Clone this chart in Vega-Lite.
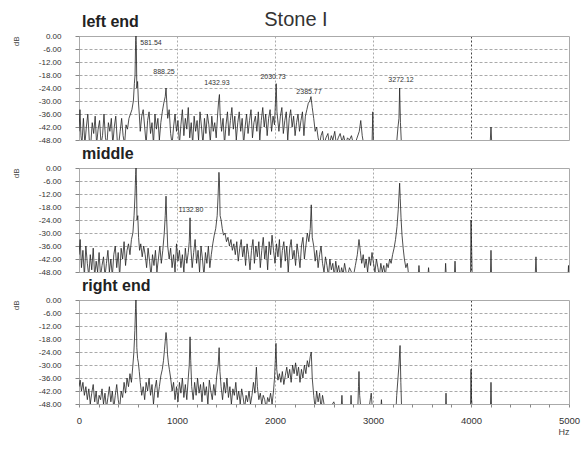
{
"$schema":"https://vega.github.io/schema/vega-lite/v6.json",
"background":"white",
"padding":{"left":11,"top":9,"right":0,"bottom":0},
"title":{"text":"Stone I","fontSize":20,"fontWeight":"normal","color":"#333","anchor":"middle","offset":-16,"frame":"bounds","dx":0},
"spacing":0,
"config":{
 "font":"Liberation Sans",
 "locale":{"number":{"decimal":".","thousands":",","grouping":[3],"currency":["$",""],"minus":"-"}},
 "view":{"stroke":"#aaa","strokeWidth":1},
 "axis":{"labelFont":"Liberation Sans","labelColor":"#333","labelFontSize":8,"tickColor":"#888","domain":false,"titleColor":"#444","titleFontWeight":"normal","titleFont":"Liberation Sans","labelOverlap":false},
 "title":{"fontSize":16,"fontWeight":"bold","anchor":"start","color":"#222","offset":2,"dx":3,"frame":"group"}
},
"datasets":{
"left":[{"hz":0,"db":-44},{"hz":10,"db":-34},{"hz":20,"db":-46},{"hz":30,"db":-50},{"hz":45,"db":-38},{"hz":60,"db":-50},{"hz":75,"db":-42},{"hz":90,"db":-36},{"hz":105,"db":-48},{"hz":120,"db":-50},{"hz":135,"db":-40},{"hz":150,"db":-45},{"hz":165,"db":-37},{"hz":180,"db":-50},{"hz":195,"db":-43},{"hz":210,"db":-39},{"hz":225,"db":-50},{"hz":240,"db":-46},{"hz":255,"db":-36},{"hz":270,"db":-47},{"hz":285,"db":-50},{"hz":300,"db":-40},{"hz":315,"db":-44},{"hz":330,"db":-38},{"hz":345,"db":-50},{"hz":360,"db":-42},{"hz":375,"db":-37},{"hz":390,"db":-48},{"hz":405,"db":-50},{"hz":420,"db":-44},{"hz":435,"db":-38},{"hz":450,"db":-46},{"hz":465,"db":-50},{"hz":480,"db":-41},{"hz":495,"db":-43},{"hz":510,"db":-38},{"hz":525,"db":-36},{"hz":540,"db":-34},{"hz":555,"db":-30},{"hz":565,"db":-22},{"hz":572,"db":-18},{"hz":578,"db":-2},{"hz":581.5,"db":0},{"hz":585,"db":-4},{"hz":590,"db":-24},{"hz":598,"db":-21},{"hz":606,"db":-30},{"hz":615,"db":-36},{"hz":625,"db":-44},{"hz":640,"db":-37},{"hz":655,"db":-34},{"hz":670,"db":-42},{"hz":685,"db":-50},{"hz":700,"db":-39},{"hz":715,"db":-35},{"hz":730,"db":-45},{"hz":745,"db":-40},{"hz":760,"db":-50},{"hz":775,"db":-36},{"hz":790,"db":-43},{"hz":805,"db":-38},{"hz":820,"db":-48},{"hz":835,"db":-40},{"hz":850,"db":-35},{"hz":865,"db":-31},{"hz":880,"db":-28},{"hz":888,"db":-24},{"hz":895,"db":-30},{"hz":905,"db":-38},{"hz":920,"db":-34},{"hz":935,"db":-45},{"hz":950,"db":-50},{"hz":965,"db":-42},{"hz":980,"db":-36},{"hz":995,"db":-44},{"hz":1010,"db":-39},{"hz":1025,"db":-50},{"hz":1040,"db":-41},{"hz":1055,"db":-34},{"hz":1070,"db":-46},{"hz":1085,"db":-38},{"hz":1100,"db":-43},{"hz":1115,"db":-33},{"hz":1130,"db":-47},{"hz":1145,"db":-40},{"hz":1160,"db":-50},{"hz":1175,"db":-37},{"hz":1190,"db":-44},{"hz":1205,"db":-39},{"hz":1220,"db":-48},{"hz":1235,"db":-35},{"hz":1250,"db":-42},{"hz":1265,"db":-50},{"hz":1280,"db":-38},{"hz":1295,"db":-45},{"hz":1310,"db":-36},{"hz":1325,"db":-41},{"hz":1340,"db":-49},{"hz":1355,"db":-37},{"hz":1370,"db":-44},{"hz":1385,"db":-40},{"hz":1400,"db":-47},{"hz":1415,"db":-36},{"hz":1425,"db":-30},{"hz":1433,"db":-27},{"hz":1440,"db":-36},{"hz":1455,"db":-44},{"hz":1470,"db":-38},{"hz":1485,"db":-50},{"hz":1500,"db":-41},{"hz":1515,"db":-35},{"hz":1530,"db":-46},{"hz":1545,"db":-39},{"hz":1560,"db":-33},{"hz":1575,"db":-43},{"hz":1590,"db":-37},{"hz":1605,"db":-48},{"hz":1620,"db":-40},{"hz":1635,"db":-35},{"hz":1650,"db":-44},{"hz":1665,"db":-38},{"hz":1680,"db":-50},{"hz":1695,"db":-42},{"hz":1710,"db":-36},{"hz":1725,"db":-45},{"hz":1740,"db":-39},{"hz":1755,"db":-34},{"hz":1770,"db":-47},{"hz":1785,"db":-40},{"hz":1800,"db":-37},{"hz":1815,"db":-44},{"hz":1830,"db":-35},{"hz":1845,"db":-48},{"hz":1860,"db":-39},{"hz":1875,"db":-33},{"hz":1890,"db":-42},{"hz":1905,"db":-36},{"hz":1920,"db":-46},{"hz":1935,"db":-38},{"hz":1950,"db":-34},{"hz":1965,"db":-44},{"hz":1980,"db":-37},{"hz":1995,"db":-41},{"hz":2005,"db":-30},{"hz":2012,"db":-22},{"hz":2020,"db":-35},{"hz":2040,"db":-44},{"hz":2055,"db":-37},{"hz":2070,"db":-33},{"hz":2085,"db":-45},{"hz":2100,"db":-39},{"hz":2115,"db":-35},{"hz":2130,"db":-48},{"hz":2145,"db":-38},{"hz":2160,"db":-34},{"hz":2175,"db":-42},{"hz":2190,"db":-37},{"hz":2205,"db":-46},{"hz":2220,"db":-40},{"hz":2235,"db":-36},{"hz":2250,"db":-44},{"hz":2265,"db":-39},{"hz":2280,"db":-35},{"hz":2295,"db":-46},{"hz":2310,"db":-37},{"hz":2325,"db":-34},{"hz":2340,"db":-31},{"hz":2355,"db":-30},{"hz":2367,"db":-28},{"hz":2380,"db":-33},{"hz":2395,"db":-38},{"hz":2410,"db":-44},{"hz":2425,"db":-42},{"hz":2440,"db":-47},{"hz":2455,"db":-50},{"hz":2470,"db":-46},{"hz":2485,"db":-44},{"hz":2500,"db":-50},{"hz":2520,"db":-47},{"hz":2540,"db":-45},{"hz":2555,"db":-50},{"hz":2575,"db":-46},{"hz":2590,"db":-48},{"hz":2610,"db":-44},{"hz":2625,"db":-50},{"hz":2645,"db":-47},{"hz":2665,"db":-45},{"hz":2685,"db":-49},{"hz":2700,"db":-46},{"hz":2720,"db":-50},{"hz":2740,"db":-47},{"hz":2760,"db":-48},{"hz":2780,"db":-46},{"hz":2800,"db":-50},{"hz":2830,"db":-48},{"hz":2860,"db":-44},{"hz":2875,"db":-39},{"hz":2890,"db":-46},{"hz":2905,"db":-50},{"hz":2990,"db":-50},{"hz":2998,"db":-35},{"hz":3005,"db":-50},{"hz":3240,"db":-50},{"hz":3255,"db":-42},{"hz":3265,"db":-38},{"hz":3272,"db":-24},{"hz":3280,"db":-40},{"hz":3290,"db":-50},{"hz":4195,"db":-50},{"hz":4204,"db":-42},{"hz":4212,"db":-50},{"hz":5000,"db":-50}],
"middle":[{"hz":0,"db":-40},{"hz":12,"db":-33},{"hz":25,"db":-46},{"hz":40,"db":-38},{"hz":55,"db":-50},{"hz":70,"db":-36},{"hz":85,"db":-44},{"hz":100,"db":-50},{"hz":115,"db":-40},{"hz":130,"db":-47},{"hz":145,"db":-37},{"hz":160,"db":-50},{"hz":175,"db":-43},{"hz":190,"db":-48},{"hz":205,"db":-39},{"hz":220,"db":-50},{"hz":235,"db":-45},{"hz":250,"db":-41},{"hz":265,"db":-50},{"hz":280,"db":-44},{"hz":295,"db":-38},{"hz":310,"db":-48},{"hz":325,"db":-42},{"hz":340,"db":-50},{"hz":355,"db":-40},{"hz":370,"db":-36},{"hz":385,"db":-46},{"hz":400,"db":-39},{"hz":415,"db":-50},{"hz":430,"db":-37},{"hz":445,"db":-42},{"hz":460,"db":-34},{"hz":475,"db":-45},{"hz":490,"db":-38},{"hz":505,"db":-35},{"hz":520,"db":-40},{"hz":535,"db":-33},{"hz":550,"db":-30},{"hz":562,"db":-22},{"hz":572,"db":-12},{"hz":578,"db":-3},{"hz":582,"db":0},{"hz":587,"db":-8},{"hz":592,"db":-24},{"hz":600,"db":-22},{"hz":608,"db":-32},{"hz":618,"db":-38},{"hz":630,"db":-35},{"hz":645,"db":-41},{"hz":660,"db":-36},{"hz":675,"db":-40},{"hz":690,"db":-46},{"hz":705,"db":-37},{"hz":720,"db":-43},{"hz":735,"db":-50},{"hz":750,"db":-40},{"hz":765,"db":-45},{"hz":780,"db":-38},{"hz":795,"db":-48},{"hz":810,"db":-42},{"hz":825,"db":-36},{"hz":840,"db":-44},{"hz":855,"db":-38},{"hz":870,"db":-30},{"hz":880,"db":-22},{"hz":888,"db":-13},{"hz":895,"db":-24},{"hz":905,"db":-36},{"hz":920,"db":-42},{"hz":935,"db":-37},{"hz":950,"db":-46},{"hz":965,"db":-40},{"hz":980,"db":-48},{"hz":995,"db":-35},{"hz":1010,"db":-43},{"hz":1025,"db":-38},{"hz":1040,"db":-46},{"hz":1055,"db":-40},{"hz":1070,"db":-48},{"hz":1085,"db":-37},{"hz":1100,"db":-44},{"hz":1115,"db":-39},{"hz":1125,"db":-34},{"hz":1133,"db":-23},{"hz":1140,"db":-36},{"hz":1155,"db":-46},{"hz":1170,"db":-39},{"hz":1185,"db":-33},{"hz":1200,"db":-44},{"hz":1215,"db":-38},{"hz":1230,"db":-48},{"hz":1245,"db":-36},{"hz":1260,"db":-42},{"hz":1275,"db":-50},{"hz":1290,"db":-39},{"hz":1305,"db":-44},{"hz":1320,"db":-36},{"hz":1335,"db":-46},{"hz":1350,"db":-40},{"hz":1365,"db":-35},{"hz":1380,"db":-31},{"hz":1395,"db":-28},{"hz":1410,"db":-22},{"hz":1420,"db":-12},{"hz":1428,"db":-2},{"hz":1433,"db":-6},{"hz":1440,"db":-22},{"hz":1450,"db":-24},{"hz":1462,"db":-28},{"hz":1475,"db":-31},{"hz":1490,"db":-30},{"hz":1505,"db":-34},{"hz":1520,"db":-32},{"hz":1535,"db":-36},{"hz":1550,"db":-33},{"hz":1565,"db":-38},{"hz":1580,"db":-35},{"hz":1595,"db":-40},{"hz":1610,"db":-34},{"hz":1625,"db":-43},{"hz":1640,"db":-37},{"hz":1655,"db":-33},{"hz":1670,"db":-41},{"hz":1685,"db":-36},{"hz":1700,"db":-45},{"hz":1715,"db":-35},{"hz":1730,"db":-40},{"hz":1745,"db":-47},{"hz":1760,"db":-38},{"hz":1775,"db":-33},{"hz":1790,"db":-44},{"hz":1805,"db":-36},{"hz":1820,"db":-41},{"hz":1835,"db":-34},{"hz":1850,"db":-46},{"hz":1865,"db":-38},{"hz":1880,"db":-32},{"hz":1895,"db":-42},{"hz":1910,"db":-36},{"hz":1925,"db":-47},{"hz":1940,"db":-34},{"hz":1955,"db":-40},{"hz":1970,"db":-31},{"hz":1985,"db":-38},{"hz":2000,"db":-44},{"hz":2015,"db":-35},{"hz":2030,"db":-41},{"hz":2045,"db":-33},{"hz":2060,"db":-46},{"hz":2075,"db":-38},{"hz":2090,"db":-34},{"hz":2105,"db":-43},{"hz":2120,"db":-36},{"hz":2135,"db":-48},{"hz":2150,"db":-37},{"hz":2165,"db":-33},{"hz":2180,"db":-42},{"hz":2195,"db":-38},{"hz":2210,"db":-45},{"hz":2225,"db":-35},{"hz":2240,"db":-40},{"hz":2255,"db":-46},{"hz":2270,"db":-36},{"hz":2285,"db":-32},{"hz":2300,"db":-42},{"hz":2315,"db":-36},{"hz":2330,"db":-30},{"hz":2345,"db":-34},{"hz":2360,"db":-28},{"hz":2370,"db":-17},{"hz":2380,"db":-32},{"hz":2395,"db":-36},{"hz":2410,"db":-43},{"hz":2425,"db":-38},{"hz":2440,"db":-46},{"hz":2455,"db":-40},{"hz":2470,"db":-36},{"hz":2485,"db":-44},{"hz":2500,"db":-48},{"hz":2515,"db":-41},{"hz":2530,"db":-45},{"hz":2545,"db":-50},{"hz":2560,"db":-42},{"hz":2575,"db":-47},{"hz":2590,"db":-44},{"hz":2605,"db":-50},{"hz":2620,"db":-43},{"hz":2635,"db":-48},{"hz":2650,"db":-45},{"hz":2665,"db":-50},{"hz":2680,"db":-46},{"hz":2695,"db":-49},{"hz":2710,"db":-44},{"hz":2725,"db":-48},{"hz":2740,"db":-50},{"hz":2760,"db":-46},{"hz":2780,"db":-48},{"hz":2800,"db":-50},{"hz":2820,"db":-45},{"hz":2840,"db":-40},{"hz":2857,"db":-33},{"hz":2870,"db":-38},{"hz":2885,"db":-44},{"hz":2900,"db":-40},{"hz":2915,"db":-46},{"hz":2930,"db":-42},{"hz":2945,"db":-48},{"hz":2960,"db":-41},{"hz":2975,"db":-45},{"hz":2990,"db":-39},{"hz":3005,"db":-44},{"hz":3020,"db":-48},{"hz":3035,"db":-42},{"hz":3050,"db":-46},{"hz":3065,"db":-50},{"hz":3080,"db":-44},{"hz":3095,"db":-48},{"hz":3110,"db":-45},{"hz":3125,"db":-50},{"hz":3140,"db":-44},{"hz":3155,"db":-46},{"hz":3170,"db":-42},{"hz":3185,"db":-44},{"hz":3200,"db":-40},{"hz":3215,"db":-37},{"hz":3230,"db":-33},{"hz":3245,"db":-27},{"hz":3258,"db":-19},{"hz":3266,"db":-12},{"hz":3272,"db":-7},{"hz":3278,"db":-14},{"hz":3286,"db":-23},{"hz":3296,"db":-31},{"hz":3308,"db":-37},{"hz":3320,"db":-42},{"hz":3335,"db":-46},{"hz":3350,"db":-44},{"hz":3365,"db":-50},{"hz":3460,"db":-50},{"hz":3469,"db":-45},{"hz":3478,"db":-50},{"hz":3560,"db":-50},{"hz":3567,"db":-46},{"hz":3574,"db":-50},{"hz":3735,"db":-50},{"hz":3741,"db":-44},{"hz":3748,"db":-50},{"hz":3830,"db":-50},{"hz":3837,"db":-43},{"hz":3844,"db":-50},{"hz":3995,"db":-50},{"hz":4000,"db":-24},{"hz":4006,"db":-36},{"hz":4012,"db":-50},{"hz":4198,"db":-50},{"hz":4204,"db":-38},{"hz":4210,"db":-50},{"hz":4655,"db":-50},{"hz":4663,"db":-41},{"hz":4670,"db":-50},{"hz":4990,"db":-50},{"hz":4995,"db":-45},{"hz":5000,"db":-50}],
"right":[{"hz":0,"db":-40},{"hz":12,"db":-37},{"hz":25,"db":-42},{"hz":40,"db":-38},{"hz":55,"db":-44},{"hz":70,"db":-40},{"hz":85,"db":-46},{"hz":100,"db":-41},{"hz":115,"db":-48},{"hz":130,"db":-43},{"hz":145,"db":-39},{"hz":160,"db":-47},{"hz":175,"db":-42},{"hz":190,"db":-50},{"hz":205,"db":-44},{"hz":220,"db":-46},{"hz":235,"db":-41},{"hz":250,"db":-48},{"hz":265,"db":-43},{"hz":280,"db":-50},{"hz":295,"db":-45},{"hz":310,"db":-40},{"hz":325,"db":-47},{"hz":340,"db":-42},{"hz":355,"db":-50},{"hz":370,"db":-44},{"hz":385,"db":-39},{"hz":400,"db":-46},{"hz":415,"db":-50},{"hz":430,"db":-42},{"hz":445,"db":-45},{"hz":460,"db":-38},{"hz":475,"db":-43},{"hz":490,"db":-36},{"hz":505,"db":-40},{"hz":520,"db":-34},{"hz":535,"db":-38},{"hz":550,"db":-30},{"hz":560,"db":-24},{"hz":570,"db":-14},{"hz":577,"db":-4},{"hz":581,"db":0},{"hz":585,"db":-6},{"hz":590,"db":-22},{"hz":598,"db":-27},{"hz":606,"db":-29},{"hz":615,"db":-33},{"hz":625,"db":-38},{"hz":640,"db":-44},{"hz":655,"db":-40},{"hz":670,"db":-46},{"hz":685,"db":-38},{"hz":700,"db":-42},{"hz":715,"db":-36},{"hz":730,"db":-44},{"hz":745,"db":-39},{"hz":760,"db":-48},{"hz":775,"db":-41},{"hz":790,"db":-37},{"hz":805,"db":-45},{"hz":820,"db":-40},{"hz":835,"db":-35},{"hz":850,"db":-32},{"hz":862,"db":-28},{"hz":872,"db":-23},{"hz":880,"db":-19},{"hz":888,"db":-15},{"hz":895,"db":-18},{"hz":903,"db":-25},{"hz":912,"db":-29},{"hz":922,"db":-32},{"hz":935,"db":-36},{"hz":950,"db":-42},{"hz":965,"db":-38},{"hz":980,"db":-46},{"hz":995,"db":-40},{"hz":1010,"db":-47},{"hz":1025,"db":-38},{"hz":1040,"db":-43},{"hz":1055,"db":-36},{"hz":1070,"db":-45},{"hz":1085,"db":-39},{"hz":1100,"db":-46},{"hz":1115,"db":-36},{"hz":1125,"db":-30},{"hz":1133,"db":-17},{"hz":1140,"db":-28},{"hz":1150,"db":-40},{"hz":1165,"db":-46},{"hz":1180,"db":-38},{"hz":1195,"db":-44},{"hz":1210,"db":-36},{"hz":1225,"db":-43},{"hz":1240,"db":-39},{"hz":1255,"db":-47},{"hz":1270,"db":-38},{"hz":1285,"db":-44},{"hz":1300,"db":-40},{"hz":1315,"db":-48},{"hz":1330,"db":-37},{"hz":1345,"db":-42},{"hz":1360,"db":-46},{"hz":1375,"db":-39},{"hz":1390,"db":-44},{"hz":1405,"db":-35},{"hz":1420,"db":-30},{"hz":1430,"db":-22},{"hz":1438,"db":-33},{"hz":1450,"db":-40},{"hz":1465,"db":-46},{"hz":1480,"db":-38},{"hz":1495,"db":-43},{"hz":1510,"db":-36},{"hz":1525,"db":-45},{"hz":1540,"db":-40},{"hz":1555,"db":-48},{"hz":1570,"db":-41},{"hz":1585,"db":-44},{"hz":1600,"db":-38},{"hz":1615,"db":-46},{"hz":1630,"db":-42},{"hz":1645,"db":-48},{"hz":1660,"db":-41},{"hz":1675,"db":-45},{"hz":1690,"db":-50},{"hz":1705,"db":-44},{"hz":1720,"db":-47},{"hz":1735,"db":-42},{"hz":1750,"db":-48},{"hz":1765,"db":-44},{"hz":1780,"db":-38},{"hz":1795,"db":-43},{"hz":1810,"db":-31},{"hz":1820,"db":-40},{"hz":1835,"db":-46},{"hz":1850,"db":-43},{"hz":1865,"db":-48},{"hz":1880,"db":-44},{"hz":1895,"db":-46},{"hz":1910,"db":-50},{"hz":1925,"db":-45},{"hz":1940,"db":-47},{"hz":1955,"db":-43},{"hz":1970,"db":-48},{"hz":1985,"db":-42},{"hz":1995,"db":-36},{"hz":2003,"db":-28},{"hz":2010,"db":-20},{"hz":2018,"db":-32},{"hz":2030,"db":-37},{"hz":2045,"db":-34},{"hz":2060,"db":-38},{"hz":2075,"db":-33},{"hz":2090,"db":-39},{"hz":2105,"db":-35},{"hz":2120,"db":-31},{"hz":2135,"db":-36},{"hz":2150,"db":-32},{"hz":2165,"db":-38},{"hz":2180,"db":-30},{"hz":2195,"db":-34},{"hz":2210,"db":-29},{"hz":2225,"db":-35},{"hz":2240,"db":-31},{"hz":2255,"db":-38},{"hz":2270,"db":-32},{"hz":2285,"db":-36},{"hz":2300,"db":-30},{"hz":2315,"db":-34},{"hz":2330,"db":-28},{"hz":2345,"db":-31},{"hz":2360,"db":-26},{"hz":2370,"db":-24},{"hz":2380,"db":-36},{"hz":2395,"db":-44},{"hz":2410,"db":-50},{"hz":2425,"db":-42},{"hz":2440,"db":-47},{"hz":2455,"db":-43},{"hz":2470,"db":-50},{"hz":2485,"db":-44},{"hz":2500,"db":-48},{"hz":2520,"db":-50},{"hz":2560,"db":-50},{"hz":2600,"db":-47},{"hz":2620,"db":-50},{"hz":2675,"db":-50},{"hz":2683,"db":-44},{"hz":2690,"db":-50},{"hz":2770,"db":-50},{"hz":2776,"db":-44},{"hz":2782,"db":-50},{"hz":2845,"db":-50},{"hz":2852,"db":-40},{"hz":2857,"db":-33},{"hz":2864,"db":-44},{"hz":2872,"db":-48},{"hz":2890,"db":-50},{"hz":2960,"db":-50},{"hz":2975,"db":-45},{"hz":2982,"db":-43},{"hz":2990,"db":-48},{"hz":3000,"db":-50},{"hz":3080,"db":-50},{"hz":3086,"db":-46},{"hz":3092,"db":-50},{"hz":3235,"db":-50},{"hz":3242,"db":-44},{"hz":3255,"db":-36},{"hz":3265,"db":-30},{"hz":3276,"db":-21},{"hz":3284,"db":-38},{"hz":3292,"db":-50},{"hz":3740,"db":-50},{"hz":3745,"db":-43},{"hz":3750,"db":-50},{"hz":3995,"db":-50},{"hz":4000,"db":-32},{"hz":4005,"db":-45},{"hz":4012,"db":-50},{"hz":4198,"db":-50},{"hz":4204,"db":-38},{"hz":4210,"db":-50},{"hz":5000,"db":-50}],
"peaks":[{"panel":"left","hz":735,"db":-3.2,"label":"581.54"},{"panel":"left","hz":867,"db":-16.6,"label":"888.25"},{"panel":"left","hz":1408,"db":-21.7,"label":"1432.93"},{"panel":"left","hz":1980,"db":-18.9,"label":"2030.73"},{"panel":"left","hz":2347,"db":-25.8,"label":"2385.77"},{"panel":"left","hz":3286,"db":-20.3,"label":"3272.12"},{"panel":"middle","hz":1143,"db":-19.4,"label":"1132.80"}]
},
"vconcat":[
{"width":490,"height":104,"title":{"text":"left end"},
 "encoding":{
  "x":{"field":"hz","type":"quantitative","scale":{"domain":[0,5000],"nice":false},"axis":{"title":null,"labels":false,"ticks":false,"values":[1000,2000,3000,4000],"gridDash":[2,2],"gridColor":{"condition":{"test":"datum.value===4000","value":"#444"},"value":"#aaa"}}},
  "y":{"field":"db","type":"quantitative","scale":{"domain":[-48,0],"nice":false},"axis":{"title":"dB","titleFontSize":8,"titleAnchor":"end","titlePadding":18,"values":[-48,-42,-36,-30,-24,-18,-12,-6,0],"format":".2f","labelPadding":14,"tickSize":4,"gridDash":[3,2],"gridColor":"#aaa"}}},
 "layer":[
  {"data":{"name":"left"},"mark":{"type":"line","clip":true,"color":"#222","strokeWidth":0.8}},
  {"data":{"name":"peaks"},"transform":[{"filter":"datum.panel==='left'"}],"mark":{"type":"text","fontSize":7,"color":"#333"},
   "encoding":{"text":{"field":"label"}}}
 ]},
{"width":490,"height":104,"title":{"text":"middle"},
 "encoding":{
  "x":{"field":"hz","type":"quantitative","scale":{"domain":[0,5000],"nice":false},"axis":{"title":null,"labels":false,"ticks":false,"values":[1000,2000,3000,4000],"gridDash":[2,2],"gridColor":{"condition":{"test":"datum.value===4000","value":"#444"},"value":"#aaa"}}},
  "y":{"field":"db","type":"quantitative","scale":{"domain":[-48,0],"nice":false},"axis":{"title":"dB","titleFontSize":8,"titleAnchor":"end","titlePadding":18,"values":[-48,-42,-36,-30,-24,-18,-12,-6,0],"format":".2f","labelPadding":14,"tickSize":4,"gridDash":[3,2],"gridColor":"#aaa"}}},
 "layer":[
  {"data":{"name":"middle"},"mark":{"type":"line","clip":true,"color":"#222","strokeWidth":0.8}},
  {"data":{"name":"peaks"},"transform":[{"filter":"datum.panel==='middle'"}],"mark":{"type":"text","fontSize":7,"color":"#333"},
   "encoding":{"text":{"field":"label"}}}
 ]},
{"width":490,"height":104,"title":{"text":"right end"},
 "data":{"name":"right"},
 "mark":{"type":"line","clip":true,"color":"#222","strokeWidth":0.8},
 "encoding":{
  "x":{"field":"hz","type":"quantitative","scale":{"domain":[0,5000],"nice":false},"axis":{"title":"Hz","titleFontSize":9,"titleAnchor":"end","titlePadding":3,"values":[0,200,400,600,800,1000,1200,1400,1600,1800,2000,2200,2400,2600,2800,3000,3200,3400,3600,3800,4000,4200,4400,4600,4800,5000],"labelExpr":"datum.value % 1000 === 0 ? datum.value : ''","labelFontSize":9.5,"labelPadding":8,"labelFlush":false,"tickSize":3,"gridDash":[2,2],"gridColor":{"condition":{"test":"datum.value===4000","value":"#444"},"value":"#aaa"},"gridOpacity":{"condition":{"test":"datum.value % 1000 === 0 && datum.value > 0 && datum.value < 5000","value":1},"value":0}}},
  "y":{"field":"db","type":"quantitative","scale":{"domain":[-48,0],"nice":false},"axis":{"title":"dB","titleFontSize":8,"titleAnchor":"end","titlePadding":18,"values":[-48,-42,-36,-30,-24,-18,-12,-6,0],"format":".2f","labelPadding":14,"tickSize":4,"gridDash":[3,2],"gridColor":"#aaa"}}}}
]
}
